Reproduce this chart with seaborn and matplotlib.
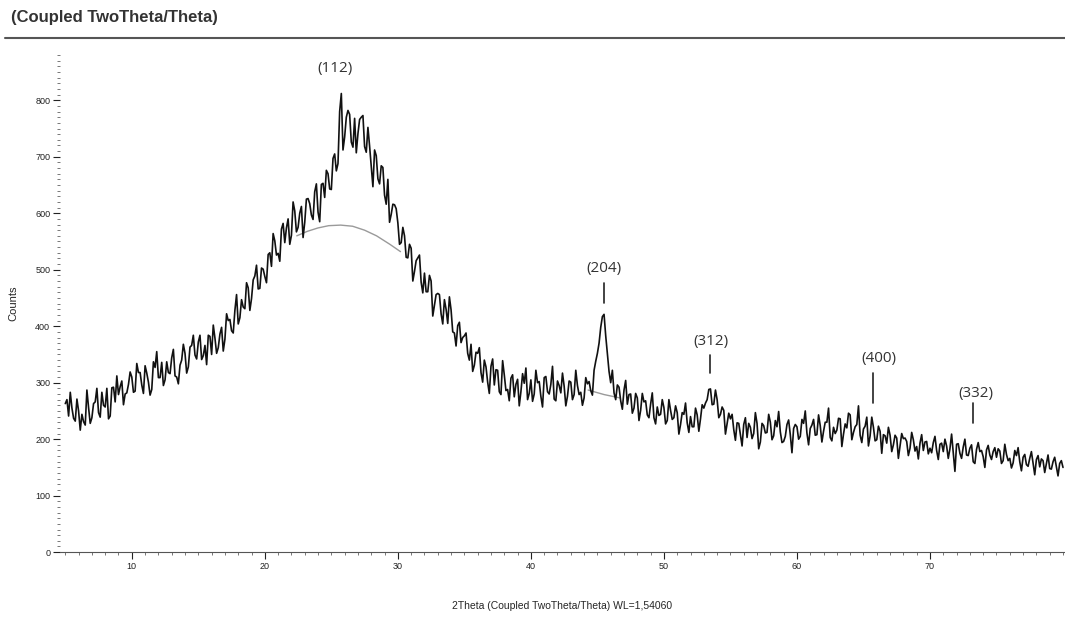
import numpy as np
import pandas as pd
import seaborn as sns
import matplotlib.pyplot as plt
from matplotlib.ticker import MultipleLocator, FixedLocator

# scan grid, 5 to 80 deg in 0.25 deg steps, plus the in-between steps
two_theta = np.arange(5.0, 80.01, 0.25)
two_theta_mid = np.arange(5.125, 79.9, 0.25)

# counts, one row per 5 degrees
counts = [
    263, 241, 255, 232, 250, 244, 225, 256, 238, 266, 247, 283, 257, 236, 291, 266, 279, 303, 280, 297,
    310, 285, 318, 296, 330, 301, 288, 327, 309, 336, 305, 318, 344, 312, 298, 340, 352, 328, 366, 349,
    372, 341, 366, 384, 350, 379, 362, 398, 377, 410, 392, 428, 404, 447, 431, 468, 449, 489, 466, 503,
    488, 527, 506, 551, 529, 572, 548, 590, 561, 604, 575, 612, 584, 626, 597, 638, 602, 651, 628, 670,
    642, 705, 688, 812, 735, 782, 726, 768, 741, 770, 718, 752, 683, 712, 661, 684, 632, 660, 598, 615,
    583, 548, 560, 521, 538, 497, 521, 478, 494, 461, 480, 437, 458, 422, 447, 405, 429, 388, 401, 371,
    383, 352, 368, 331, 352, 318, 340, 301, 329, 296, 322, 279, 314, 288, 308, 275, 306, 284, 299, 270,
    305, 280, 300, 276, 309, 284, 297, 271, 303, 282, 294, 276, 301, 279, 295, 283, 273, 298, 286, 322,
    352, 398, 421, 352, 300, 282, 296, 268, 287, 262, 280, 255, 273, 251, 266, 243, 262, 238, 257, 244,
    256, 233, 251, 238, 247, 226, 244, 229, 240, 222, 243, 236, 255, 270, 289, 262, 270, 244, 251, 228,
    236, 217, 229, 208, 226, 203, 221, 210, 228, 195, 224, 212, 230, 206, 222, 213, 196, 226, 208, 219,
    222, 205, 228, 211, 219, 235, 208, 224, 214, 230, 203, 221, 216, 236, 209, 220, 243, 212, 226, 207,
    218, 239, 206, 221, 199, 214, 208, 193, 207, 190, 202, 188, 201, 196, 184, 199, 187, 193, 180, 196,
    184, 194, 180, 191, 178, 188, 183, 177, 191, 175, 186, 172, 184, 160, 182, 178, 169, 181, 172, 178,
    168, 179, 162, 173, 166, 158, 171, 160, 168, 155, 166, 157, 164, 151, 162, 156, 148, 160, 151, 157,
    150,
]

counts_mid = [
    270, 283, 237, 271, 216, 231, 287, 228, 263, 290, 239, 260, 290, 241, 292, 312, 293, 261, 282, 319,
    283, 334, 318, 281, 317, 278, 337, 355, 309, 295, 337, 316, 359, 310, 331, 368, 317, 363, 384, 342,
    384, 348, 332, 382, 402, 352, 386, 356, 422, 412, 388, 456, 415, 434, 477, 428, 482, 508, 467, 501,
    477, 530, 564, 526, 515, 582, 574, 545, 620, 567, 600, 557, 625, 617, 589, 652, 585, 653, 676, 643,
    697, 675, 780, 712, 770, 775, 717, 707, 766, 773, 708, 719, 647, 702, 652, 681, 616, 584, 616, 608,
    545, 575, 522, 545, 480, 516, 526, 459, 461, 490, 418, 456, 456, 404, 430, 452, 390, 365, 407, 380,
    388, 340, 320, 354, 362, 301, 328, 281, 342, 323, 284, 339, 286, 268, 314, 297, 259, 316, 326, 281,
    267, 322, 302, 257, 311, 280, 329, 268, 295, 317, 259, 303, 270, 322, 279, 260, 309, 302, 278, 338,
    370, 417, 383, 320, 322, 270, 292, 253, 304, 279, 246, 281, 233, 281, 268, 238, 282, 227, 242, 270,
    227, 270, 235, 259, 209, 247, 264, 212, 222, 255, 214, 261, 264, 288, 261, 287, 238, 257, 209, 246,
    244, 198, 228, 188, 238, 228, 201, 247, 183, 228, 211, 244, 199, 233, 249, 194, 205, 234, 176, 226,
    200, 235, 250, 190, 225, 207, 243, 195, 230, 255, 197, 210, 237, 187, 227, 246, 199, 222, 259, 194,
    223, 188, 239, 197, 223, 175, 206, 221, 178, 207, 166, 210, 202, 171, 212, 179, 165, 208, 195, 174,
    176, 205, 164, 193, 200, 166, 209, 143, 192, 166, 200, 171, 190, 157, 194, 180, 150, 189, 164, 185,
    183, 157, 191, 162, 149, 180, 185, 144, 173, 152, 178, 137, 171, 165, 141, 172, 147, 168, 135, 162,
]

# amorphous background hump (gray), two visible pieces
hump_x = [22.4, 23.2, 24.0, 24.8, 25.7, 26.6, 27.5, 28.4, 29.4, 30.2]
hump_y = [560, 568, 574, 578, 579, 577, 570, 560, 545, 532]
base_x = [44.3, 44.9, 45.5, 46.1, 46.7]
base_y = [287, 283, 279, 276, 273]

# peak labels
peak_names = ['(112)', '(204)', '(312)', '(400)', '(332)']
label_x = [25.26, 45.5, 53.53, 66.17, 73.46]
label_y = [857, 503, 373, 342, 280]
tick_x = [None, 45.5, 53.5, 65.7, 73.2]
tick_top = [None, 476, 349, 317, 264]
tick_bot = [None, 441, 317, 264, 228]

x_ticks = [10, 20, 30, 40, 50, 60, 70]

df = pd.concat([
    pd.DataFrame({'2theta': two_theta, 'counts': counts}),
    pd.DataFrame({'2theta': two_theta_mid, 'counts': counts_mid}),
]).sort_values('2theta')

sns.set_style('white')
plt.rcParams['font.family'] = ['Liberation Sans', 'DejaVu Sans']

fig = plt.figure(figsize=(10.65, 6.19), dpi=100)
ax = fig.add_axes([0.0563, 0.108, 0.9437, 0.803])

sns.lineplot(x=hump_x, y=hump_y, ax=ax, color='#9a9a9a', lw=1.0, zorder=1)
sns.lineplot(x=base_x, y=base_y, ax=ax, color='#9a9a9a', lw=1.0, zorder=1)
sns.lineplot(data=df, x='2theta', y='counts', ax=ax, color='#111111', lw=1.2,
             sort=False, zorder=2)

ax.set_xlim(4.6, 80.15)
ax.set_ylim(0, 880)

ax.xaxis.set_major_locator(FixedLocator(x_ticks))
ax.xaxis.set_minor_locator(MultipleLocator(1))
ax.yaxis.set_major_locator(MultipleLocator(100))
ax.yaxis.set_minor_locator(MultipleLocator(10))
ax.tick_params(axis='both', which='major', direction='out', length=5, width=0.8,
               labelsize=6.5, colors='#222222', pad=2, bottom=True, left=True)
ax.tick_params(axis='both', which='minor', direction='out', length=2, width=0.7,
               colors='#777777', bottom=True, left=True)

for s in ['top', 'right']:
    ax.spines[s].set_visible(False)
ax.spines['bottom'].set_color('#555555')
ax.spines['bottom'].set_linewidth(0.8)
ax.spines['left'].set_visible(False)

ax.set_xlabel('2Theta (Coupled TwoTheta/Theta) WL=1,54060', fontsize=7.5, labelpad=22)
ax.set_ylabel('Counts', fontsize=8, labelpad=12)

# peak labels and marker lines
for i, name in enumerate(peak_names):
    ax.text(label_x[i], label_y[i], name, ha='center', va='center', fontsize=11,
            color='#333333', family=['Open Sans', 'DejaVu Sans'])
    if tick_x[i] is not None:
        ax.plot([tick_x[i], tick_x[i]], [tick_bot[i], tick_top[i]], color='#222222', lw=1.2)

# title and rule above the plot
fig.text(0.01, 0.972, '(Coupled TwoTheta/Theta)', fontsize=12, fontweight='bold',
         color='#333333', va='center', ha='left')
fig.add_artist(plt.Line2D([0.005, 1.0], [0.938, 0.938], color='#555555', lw=1.5))

fig.savefig('out.png', dpi=100)
